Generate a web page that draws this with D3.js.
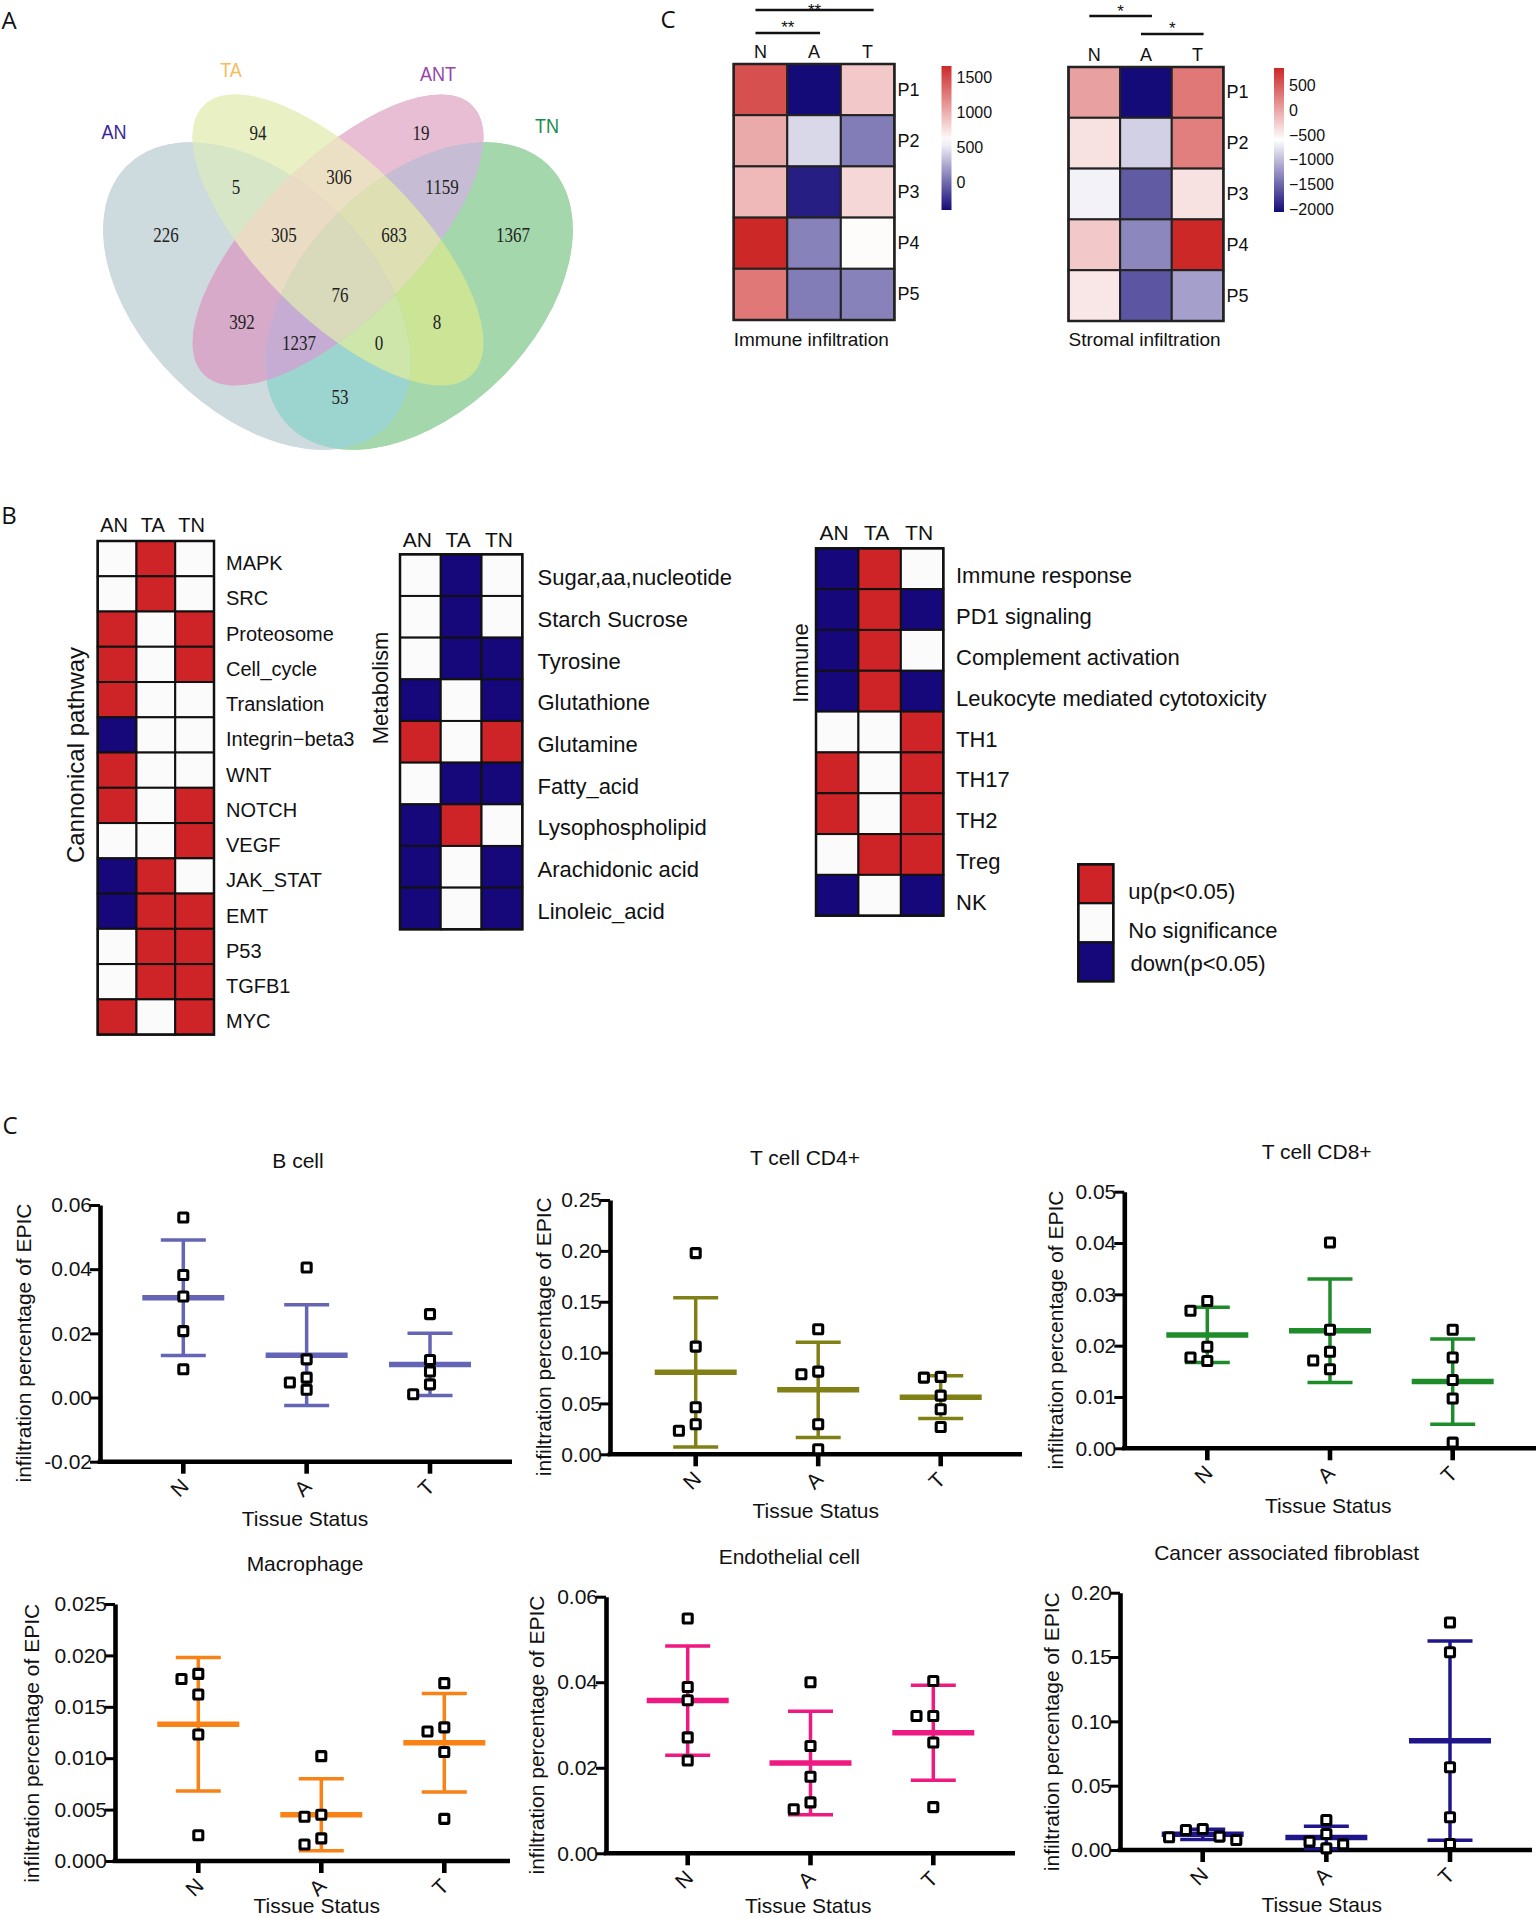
<!DOCTYPE html>
<html><head><meta charset="utf-8">
<script src="https://cdn.jsdelivr.net/npm/d3@7"></script>
<style>body{margin:0;background:#fff}svg{display:block}</style>
</head><body>
<svg id="fig" width="1536" height="1918"></svg>
<script>
// ================= DATA =================
// Panel A – Venn
const vennSets = ["AN","TA","ANT","TN"];
const vennSetColors = ["#3c2896","#f5be5a","#9646aa","#198c4b"];
const vennRegions = ["AN","TA","ANT","TN","AN&TA","TA&ANT","ANT&TN","AN&ANT","TA&TN","AN&TN","AN&TA&ANT","TA&ANT&TN","AN&ANT&TN","AN&TA&TN","AN&TA&ANT&TN"];
const vennCounts = [226,94,19,1367,5,306,1159,392,8,53,305,683,1237,0,76];
const vennRegionColors = ["#cddade","#e8f0c4","#e8bed4","#a5d7ac","#d6e6c6","#ece0c4","#c6bcd4","#d6aac8","#cce496","#9cd4d0","#eadcc4","#dee0b4","#c6acd2","#cee6aa","#d8dabb"];

// Panel C (top) – ESTIMATE heatmaps
const patients = ["P1","P2","P3","P4","P5"];
const tissues = ["N","A","T"];
const immuneScores = [[1470,-400,874],[1023,440,70],[949,-320,799],[1670,90,620],[1270,70,90]];
const stromalScores = [[44,-2060,320],[-395,-880,280],[-675,-1580,-395],[-225,-1315,864],[-430,-1610,-1165]];
const immuneTicks = [0,500,1000,1500];
const stromalTicks = [-2000,-1500,-1000,-500,0,500];
const immuneSig = [{a:"N",b:"T",label:"**",level:0},{a:"N",b:"A",label:"**",level:1}];
const stromalSig = [{a:"N",b:"A",label:"*",level:0},{a:"A",b:"T",label:"*",level:1}];

// Panel B – pathway status heatmaps (1 up, 0 n.s., -1 down)
const contrasts = ["AN","TA","TN"];
const canonicalRows = ["MAPK","SRC","Proteosome","Cell_cycle","Translation","Integrin\u2212beta3","WNT","NOTCH","VEGF","JAK_STAT","EMT","P53","TGFB1","MYC"];
const canonicalStatus = [[0,1,0],[0,1,0],[1,0,1],[1,0,1],[1,0,0],[-1,0,0],[1,0,0],[1,0,1],[0,0,1],[-1,1,0],[-1,1,1],[0,1,1],[0,1,1],[1,0,1]];
const metabolismRows = ["Sugar,aa,nucleotide","Starch Sucrose","Tyrosine","Glutathione","Glutamine","Fatty_acid","Lysophospholipid","Arachidonic acid","Linoleic_acid"];
const metabolismStatus = [[0,-1,0],[0,-1,0],[0,-1,-1],[-1,0,-1],[1,0,1],[0,-1,-1],[-1,1,0],[-1,0,-1],[-1,0,-1]];
const immuneRows = ["Immune response","PD1 signaling","Complement activation","Leukocyte mediated cytotoxicity","TH1","TH17","TH2","Treg","NK"];
const immuneStatus = [[-1,1,0],[-1,1,-1],[-1,1,0],[-1,1,-1],[0,0,1],[1,0,1],[1,0,1],[0,1,1],[-1,0,-1]];
const legendLabels = ["up(p<0.05)","No significance","down(p<0.05)"];
const legendStatus = [1,0,-1];

// Panel C (bottom) – EPIC infiltration, groups N / A / T
const groups = ["N","A","T"];
const bCellValues = [[0.0561,0.0382,0.0315,0.0207,0.0088],[0.0405,0.0119,0.0062,0.0047,0.0024],[0.026,0.0117,0.0081,0.0041,0.001]];
const bCellMean = [0.0311,0.0132,0.0103];
const bCellSD = [0.018,0.0157,0.0097];
const cd4Values = [[0.1978,0.1059,0.0462,0.0295,0.0232],[0.123,0.0813,0.0787,0.0295,0.0049],[0.0761,0.0754,0.0577,0.0443,0.0269]];
const cd4Mean = [0.0806,0.0634,0.0561];
const cd4SD = [0.0734,0.0468,0.021];
const cd8Values = [[0.0287,0.0268,0.0198,0.0177,0.017],[0.0401,0.0231,0.0188,0.0171,0.0154],[0.0231,0.0177,0.0133,0.0097,0.0011]];
const cd8Mean = [0.0221,0.0229,0.013];
const cd8SD = [0.0054,0.0101,0.0083];
const macroValues = [[0.0182,0.0177,0.0162,0.0123,0.0025],[0.0102,0.0045,0.0043,0.0022,0.0016],[0.0173,0.013,0.0126,0.0106,0.0041]];
const macroMean = [0.0133,0.0045,0.0115];
const macroSD = [0.0065,0.0035,0.0048];
const endoValues = [[0.0549,0.0389,0.0358,0.0271,0.0217],[0.04,0.0251,0.0179,0.0119,0.0103],[0.0403,0.0321,0.0321,0.0259,0.0108]];
const endoMean = [0.0357,0.0211,0.0282];
const endoSD = [0.0128,0.0121,0.0111];
const cafValues = [[0.0163,0.0156,0.0104,0.0099,0.0078],[0.0233,0.0124,0.0065,0.0044,0.0013],[0.1768,0.1537,0.0643,0.0254,0.0047]];
const cafMean = [0.0122,0.0097,0.085];
const cafSD = [0.004,0.0088,0.0775];
const bCellTicks = [-0.02,0,0.02,0.04,0.06];
const cd4Ticks = [0,0.05,0.10,0.15,0.20,0.25];
const cd8Ticks = [0,0.01,0.02,0.03,0.04,0.05];
const macroTicks = [0,0.005,0.010,0.015,0.020,0.025];
const endoTicks = [0,0.02,0.04,0.06];
const cafTicks = [0,0.05,0.10,0.15,0.20];

// ================= RENDER =================
const SANS = "'Liberation Sans', Arial, Helvetica, sans-serif";
const SERIF = "'Liberation Serif', 'Times New Roman', serif";
const LETTER = "'Open Sans', 'Noto Sans', sans-serif";
const svg = d3.select("#fig");
const defs = svg.append("defs");
svg.append("rect").attr("width",1536).attr("height",1918).attr("fill","#fff");

// panel letters
[{t:"A",x:9,y:19},{t:"C",x:668,y:18},{t:"B",x:9,y:514},{t:"C",x:10,y:1124}].forEach(p=>{
  svg.append("text").attr("x",p.x).attr("y",p.y).attr("text-anchor","middle").attr("dominant-baseline","central")
    .attr("font-family",LETTER).attr("font-size",24).attr("fill","#111").text(p.t);
});

// ---------- Venn ----------
const vennGeom = {AN:{cx:257,cy:296,rx:184,ry:116,rot:45},TA:{cx:338,cy:240,rx:190,ry:79,rot:45},
                  ANT:{cx:338,cy:240,rx:190,ry:79,rot:-45},TN:{cx:419,cy:296,rx:184,ry:116,rot:-45}};
const vennLabelPos = [[166,235],[258,133],[421,133],[513,235],[236,187],[339,177],[442,187],[242,322],[437,322],[340,397],[284,235],[394,235],[299,343],[379,343],[340,295]];
const vennSetLabelPos = [[114,131],[231,69],[438,73],[547,125]];
const vb = {x:50,y:70,w:560,h:400};
const ellAttr = (sel,s)=>{const e=vennGeom[s];return sel.attr("cx",0).attr("cy",0).attr("rx",e.rx).attr("ry",e.ry).attr("transform",`translate(${e.cx},${e.cy}) rotate(${e.rot})`);};
vennSets.forEach(s=> ellAttr(defs.append("clipPath").attr("id","cp-"+s).append("ellipse"),s));
const vennG = svg.append("g");
vennSets.forEach((s,i)=> ellAttr(vennG.append("ellipse"),s).attr("fill",vennRegionColors[i]));
vennRegions.forEach((r,k)=>{
  const mem = r.split("&");
  const mask = defs.append("mask").attr("id","mk-"+k).attr("maskUnits","userSpaceOnUse")
    .attr("x",vb.x).attr("y",vb.y).attr("width",vb.w).attr("height",vb.h);
  mask.append("rect").attr("x",vb.x).attr("y",vb.y).attr("width",vb.w).attr("height",vb.h).attr("fill","white");
  vennSets.filter(s=>!mem.includes(s)).forEach(s=> ellAttr(mask.append("ellipse"),s).attr("fill","black"));
  let g = vennG;
  mem.forEach(s=> g = g.append("g").attr("clip-path",`url(#cp-${s})`));
  g.append("rect").attr("x",vb.x).attr("y",vb.y).attr("width",vb.w).attr("height",vb.h)
    .attr("fill",vennRegionColors[k]).attr("mask",`url(#mk-${k})`);
});
vennCounts.forEach((c,k)=>{
  const [x,y]=vennLabelPos[k];
  svg.append("text").attr("transform",`translate(${x},${y}) scale(0.85,1)`).attr("text-anchor","middle")
    .attr("dominant-baseline","central").attr("font-family",SERIF).attr("font-size",20).attr("fill","#222").text(c);
});
vennSets.forEach((s,i)=>{
  const [x,y]=vennSetLabelPos[i];
  svg.append("text").attr("transform",`translate(${x},${y}) scale(0.86,1)`).attr("text-anchor","middle")
    .attr("dominant-baseline","central").attr("font-family",SANS).attr("font-size",21).attr("fill",vennSetColors[i]).text(s);
});

// ---------- Top ESTIMATE heatmaps ----------
const divColors = ["#140a78","#ffffff","#cd2828"];
function estimateMap(cfg){
  const g = svg.append("g");
  const x = d3.scaleBand().domain(tissues).range([cfg.x0,cfg.x1]);
  const y = d3.scaleBand().domain(patients).range([cfg.y0,cfg.y1]);
  const col = d3.scaleLinear().domain(cfg.colDomain).range(divColors);
  const cells = [];
  cfg.values.forEach((row,i)=>row.forEach((v,j)=>cells.push({p:patients[i],t:tissues[j],v})));
  g.selectAll("rect.c").data(cells).join("rect").attr("x",d=>x(d.t)).attr("y",d=>y(d.p))
    .attr("width",x.bandwidth()).attr("height",y.bandwidth()).attr("fill",d=>col(d.v))
    .attr("stroke","#222").attr("stroke-width",2);
  g.append("rect").attr("x",cfg.x0).attr("y",cfg.y0).attr("width",cfg.x1-cfg.x0).attr("height",cfg.y1-cfg.y0)
    .attr("fill","none").attr("stroke","#222").attr("stroke-width",2.5);
  g.selectAll("text.r").data(patients).join("text").attr("x",cfg.x1+3).attr("y",d=>y(d)+y.bandwidth()/2)
    .attr("dominant-baseline","central").attr("font-family",SANS).attr("font-size",18).attr("fill","#111").text(d=>d);
  g.selectAll("text.h").data(tissues).join("text").attr("x",d=>x(d)+x.bandwidth()/2).attr("y",cfg.headerY)
    .attr("text-anchor","middle").attr("font-family",SANS).attr("font-size",18).attr("fill","#111").text(d=>d);
  g.append("text").attr("x",cfg.x0).attr("y",cfg.titleY).attr("font-family",SANS).attr("font-size",19).attr("fill","#111").text(cfg.title);
  // significance
  cfg.sig.forEach(s=>{
    const xa = x(s.a)+x.bandwidth()/2-5, xb = x(s.b)+x.bandwidth()/2+6, yy = cfg.sigY[s.level];
    g.append("line").attr("x1",xa).attr("x2",xb).attr("y1",yy).attr("y2",yy).attr("stroke","#111").attr("stroke-width",2.5);
    g.append("text").attr("x",(xa+xb)/2).attr("y",yy+cfg.starDy[s.level]).attr("text-anchor","middle").attr("font-family",SANS)
      .attr("font-size",17).attr("fill","#111").text(s.label);
  });
  // colour bar
  const cb = d3.scaleLinear().domain([cfg.colDomain[0],cfg.colDomain[2]]).range([cfg.cbY1,cfg.cbY0]);
  const gid = "grad-"+cfg.id;
  const grad = defs.append("linearGradient").attr("id",gid).attr("x1",0).attr("x2",0).attr("y1",1).attr("y2",0);
  d3.range(0,1.0001,0.05).forEach(t=>{
    const v = cfg.colDomain[0]+t*(cfg.colDomain[2]-cfg.colDomain[0]);
    grad.append("stop").attr("offset",t).attr("stop-color",col(v));
  });
  g.append("rect").attr("x",cfg.cbX).attr("y",cfg.cbY0).attr("width",10).attr("height",cfg.cbY1-cfg.cbY0).attr("fill",`url(#${gid})`);
  g.selectAll("text.cb").data(cfg.ticks).join("text").attr("x",cfg.cbX+15).attr("y",d=>cb(d))
    .attr("dominant-baseline","central").attr("font-family",SANS).attr("font-size",16).attr("fill","#111")
    .text(d=>d3.format("d")(d));
}
estimateMap({id:"imm",values:immuneScores,x0:733.7,x1:894.4,y0:64,y1:320,colDomain:[-400,600,1670],headerY:58,
  title:"Immune infiltration",titleY:346,sig:immuneSig,sigY:[10,33],starDy:[5.5,0],cbX:941.5,cbY0:66,cbY1:210,ticks:immuneTicks});
estimateMap({id:"str",values:stromalScores,x0:1068.5,x1:1223.4,y0:67,y1:321,colDomain:[-2060,-600,864],headerY:61,
  title:"Stromal infiltration",titleY:346,sig:stromalSig,sigY:[16,34],starDy:[1,0],cbX:1274,cbY0:68,cbY1:212,ticks:stromalTicks});

// ---------- Panel B status heatmaps ----------
const statusColor = v => v>0 ? "#ce2427" : (v<0 ? "#16087a" : "#fbfbfb");
function statusMap(cfg){
  const g = svg.append("g");
  const x = d3.scaleBand().domain(contrasts).range([cfg.x0,cfg.x1]);
  const y = d3.scaleBand().domain(cfg.rows).range([cfg.y0,cfg.y1]);
  const cells = [];
  cfg.status.forEach((row,i)=>row.forEach((v,j)=>cells.push({r:cfg.rows[i],c:contrasts[j],v})));
  g.selectAll("rect.c").data(cells).join("rect").attr("x",d=>x(d.c)).attr("y",d=>y(d.r))
    .attr("width",x.bandwidth()).attr("height",y.bandwidth()).attr("fill",d=>statusColor(d.v))
    .attr("stroke","#111").attr("stroke-width",2);
  g.append("rect").attr("x",cfg.x0).attr("y",cfg.y0).attr("width",cfg.x1-cfg.x0).attr("height",cfg.y1-cfg.y0)
    .attr("fill","none").attr("stroke","#111").attr("stroke-width",2.5);
  g.selectAll("text.r").data(cfg.rows).join("text").attr("x",cfg.labelX).attr("y",d=>y(d)+y.bandwidth()/2+cfg.labelDy)
    .attr("dominant-baseline","central").attr("font-family",SANS).attr("font-size",cfg.fs).attr("fill","#111").text(d=>d);
  g.selectAll("text.h").data(contrasts).join("text").attr("x",d=>x(d)+x.bandwidth()/2-3).attr("y",cfg.headerY)
    .attr("text-anchor","middle").attr("font-family",SANS).attr("font-size",cfg.hfs).attr("fill","#111").text(d=>d);
  g.append("text").attr("transform",`translate(${cfg.titleX},${cfg.titleY}) rotate(-90)`).attr("text-anchor","middle")
    .attr("dominant-baseline","central").attr("font-family",SANS).attr("font-size",cfg.tfs).attr("fill","#111").text(cfg.title);
}
statusMap({rows:canonicalRows,status:canonicalStatus,x0:97.7,x1:214,y0:541,y1:1034.6,labelX:226,labelDy:4.5,fs:20,hfs:20,headerY:532,
  title:"Cannonical pathway",titleX:75,titleY:755,tfs:24});
statusMap({rows:metabolismRows,status:metabolismStatus,x0:400,x1:522.3,y0:554.3,y1:929.3,labelX:537.5,labelDy:2.6,fs:22,hfs:21,headerY:547,
  title:"Metabolism",titleX:380,titleY:688,tfs:22});
statusMap({rows:immuneRows,status:immuneStatus,x0:816,x1:943.3,y0:548.3,y1:915.7,labelX:956,labelDy:7,fs:22,hfs:21,headerY:539.5,
  title:"Immune",titleX:800,titleY:663,tfs:22});
// legend
const lg = svg.append("g");
const ly = d3.scaleBand().domain(legendLabels).range([864.3,981.3]);
lg.selectAll("rect").data(legendLabels).join("rect").attr("x",1078.3).attr("y",d=>ly(d)).attr("width",35).attr("height",ly.bandwidth())
  .attr("fill",(d,i)=>statusColor(legendStatus[i])).attr("stroke","#111").attr("stroke-width",2);
lg.append("rect").attr("x",1078.3).attr("y",864.3).attr("width",35).attr("height",117).attr("fill","none").attr("stroke","#111").attr("stroke-width",2.5);
lg.selectAll("text").data(legendLabels).join("text").attr("x",(d,i)=>i===2?1130.5:1128.3).attr("y",(d,i)=>ly(d)+ly.bandwidth()/2+[8,8,2][i])
  .attr("dominant-baseline","central").attr("font-family",SANS).attr("font-size",22).attr("fill","#111").text(d=>d);

// ---------- Bottom scatter panels ----------
const scatterPanels = [
  {title:"B cell",values:bCellValues,mean:bCellMean,sd:bCellSD,ticks:bCellTicks,fmt:".2f",color:"#6565b5",
   ax:100,yTopPx:1205,yBotPx:1461.7,xN:183.3,xT:430,xEnd:512,titlePos:[298,1160],xlab:"Tissue Status",xlabPos:[305,1518],ylabPos:[23,1343]},
  {title:"T cell CD4+",values:cd4Values,mean:cd4Mean,sd:cd4SD,ticks:cd4Ticks,fmt:".2f",color:"#808016",
   ax:610,yTopPx:1200,yBotPx:1454.3,xN:695.7,xT:940.7,xEnd:1022,titlePos:[805,1157],xlab:"Tissue Status",xlabPos:[815.7,1510.7],ylabPos:[543.3,1336.7]},
  {title:"T cell CD8+",values:cd8Values,mean:cd8Mean,sd:cd8SD,ticks:cd8Ticks,fmt:".2f",color:"#1e8c2a",
   ax:1124.3,yTopPx:1191.7,yBotPx:1448.3,xN:1207.3,xT:1452.7,xEnd:1536,titlePos:[1316.7,1151.7],xlab:"Tissue Status",xlabPos:[1328.3,1505],ylabPos:[1055,1330]},
  {title:"Macrophage",values:macroValues,mean:macroMean,sd:macroSD,ticks:macroTicks,fmt:".3f",color:"#f98216",
   ax:115,yTopPx:1604,yBotPx:1861,xN:198.3,xT:444.3,xEnd:510,titlePos:[305,1563.3],xlab:"Tissue Status",xlabPos:[316.7,1905],ylabPos:[31.7,1743.3]},
  {title:"Endothelial cell",values:endoValues,mean:endoMean,sd:endoSD,ticks:endoTicks,fmt:".2f",color:"#ee1a82",
   ax:606,yTopPx:1596.7,yBotPx:1853.3,xN:687.7,xT:933.3,xEnd:1015,titlePos:[789.3,1556],xlab:"Tissue Status",xlabPos:[808.3,1905],ylabPos:[536,1735]},
  {title:"Cancer associated fibroblast",values:cafValues,mean:cafMean,sd:cafSD,ticks:cafTicks,fmt:".2f",color:"#20168c",
   ax:1120,yTopPx:1592.7,yBotPx:1850,xN:1202.7,xT:1450,xEnd:1532,titlePos:[1286.7,1552.7],xlab:"Tissue Staus",xlabPos:[1321.7,1904],ylabPos:[1051.7,1731.7]}
];
const MK = 12, STEP = 8.4, SQ = 9;
function swarm(vals,y){
  const order = vals.map((v,i)=>i).sort((a,b)=>vals[b]-vals[a]);
  const placed=[], off=new Array(vals.length).fill(0);
  order.forEach(i=>{
    const py=y(vals[i]);
    for(let k=0;k<30;k++){
      const c = k===0?0:(k%2?-Math.ceil(k/2):Math.ceil(k/2))*STEP;
      if(placed.every(p=>Math.abs(p.x-c)>=MK-0.6||Math.abs(p.y-py)>=MK-0.6)){off[i]=c;placed.push({x:c,y:py});break;}
    }
  });
  return off;
}
scatterPanels.forEach(P=>{
  const g = svg.append("g");
  const y = d3.scaleLinear().domain([P.ticks[0],P.ticks[P.ticks.length-1]]).range([P.yBotPx,P.yTopPx]);
  const x = d3.scalePoint().domain(groups).range([P.xN,P.xT]);
  const f = d3.format(P.fmt);
  // y axis
  const ya = g.append("g").attr("transform",`translate(${P.ax},0)`)
    .call(d3.axisLeft(y).tickValues(P.ticks).tickSize(10).tickSizeOuter(0).tickPadding(-2).tickFormat(d=>f(d).replace("\u2212","-")));
  ya.select(".domain").attr("stroke","#000").attr("stroke-width",4.6);
  ya.selectAll(".tick line").attr("stroke","#000").attr("stroke-width",3);
  ya.selectAll(".tick text").attr("font-family",SANS).attr("font-size",21).attr("fill","#111");
  // x axis
  g.append("line").attr("x1",P.ax-2.3).attr("x2",P.xEnd).attr("y1",P.yBotPx).attr("y2",P.yBotPx).attr("stroke","#000").attr("stroke-width",4.6);
  g.selectAll("line.xt").data(groups).join("line").attr("x1",d=>x(d)).attr("x2",d=>x(d)).attr("y1",P.yBotPx).attr("y2",P.yBotPx+12)
    .attr("stroke","#000").attr("stroke-width",4.6);
  g.selectAll("text.xt").data(groups).join("text").attr("transform",d=>`translate(${x(d)-4},${P.yBotPx+26}) rotate(-45)`)
    .attr("text-anchor","middle").attr("dominant-baseline","central").attr("font-family",SANS).attr("font-size",21).attr("fill","#111").text(d=>d);
  // labels
  g.append("text").attr("x",P.titlePos[0]).attr("y",P.titlePos[1]).attr("text-anchor","middle").attr("dominant-baseline","central")
    .attr("font-family",SANS).attr("font-size",21).attr("fill","#111").text(P.title);
  g.append("text").attr("x",P.xlabPos[0]).attr("y",P.xlabPos[1]).attr("text-anchor","middle").attr("dominant-baseline","central")
    .attr("font-family",SANS).attr("font-size",21).attr("fill","#111").text(P.xlab);
  g.append("text").attr("transform",`translate(${P.ylabPos[0]},${P.ylabPos[1]}) rotate(-90)`).attr("text-anchor","middle")
    .attr("dominant-baseline","central").attr("font-family",SANS).attr("font-size",21).attr("fill","#111").text("infiltration percentage of EPIC");
  // mean ± SD
  groups.forEach((gr,i)=>{
    const cx=x(gr), m=P.mean[i], s=P.sd[i];
    g.append("line").attr("x1",cx).attr("x2",cx).attr("y1",y(m-s)).attr("y2",y(m+s)).attr("stroke",P.color).attr("stroke-width",3.5);
    [m-s,m+s].forEach(v=> g.append("line").attr("x1",cx-22.5).attr("x2",cx+22.5).attr("y1",y(v)).attr("y2",y(v)).attr("stroke",P.color).attr("stroke-width",3.5));
    g.append("line").attr("x1",cx-41).attr("x2",cx+41).attr("y1",y(m)).attr("y2",y(m)).attr("stroke",P.color).attr("stroke-width",5.5);
  });
  // points
  groups.forEach((gr,i)=>{
    const vals=P.values[i], off=swarm(vals,y);
    g.selectAll(null).data(vals).join("rect").attr("x",(d,k)=>x(gr)+off[k]-SQ/2).attr("y",d=>y(d)-SQ/2)
      .attr("width",SQ).attr("height",SQ).attr("rx",1).attr("fill","#fff").attr("stroke","#000").attr("stroke-width",3.1);
  });
});
</script>
</body></html>
